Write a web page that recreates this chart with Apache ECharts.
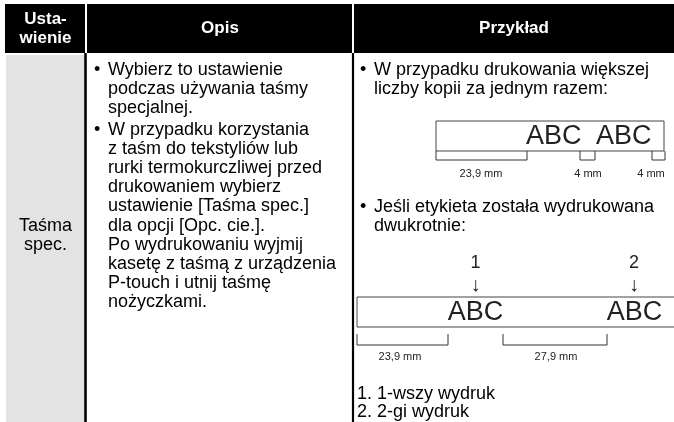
<!DOCTYPE html>
<html>
<head>
<meta charset="utf-8">
<script src="https://cdn.jsdelivr.net/npm/echarts@6/dist/echarts.min.js"></script>
<style>html,body{margin:0;padding:0;background:#fff;}#c{width:674px;height:422px;}</style>
</head>
<body>
<div id="c"></div>
<script>
// ---- content (texts / values) ----
const headers = ['Usta-\nwienie', 'Opis', 'Przykład'];
const settingName = ['Taśma', 'spec.'];
const descBullets = [
  ['Wybierz to ustawienie', 'podczas używania taśmy', 'specjalnej.'],
  ['W przypadku korzystania', 'z taśm do tekstyliów lub', 'rurki termokurczliwej przed',
   'drukowaniem wybierz', 'ustawienie [Taśma spec.]', 'dla opcji [Opc. cie.].',
   'Po wydrukowaniu wyjmij', 'kasetę z taśmą z urządzenia', 'P-touch i utnij taśmę', 'nożyczkami.']
];
const exampleIntro1 = ['W przypadku drukowania większej', 'liczby kopii za jednym razem:'];
const exampleIntro2 = ['Jeśli etykieta została wydrukowana', 'dwukrotnie:'];
const labelTexts1 = ['ABC', 'ABC'];
const measures1 = ['23,9 mm', '4 mm', '4 mm'];
const printMarks = ['1', '2'];
const labelTexts2 = ['ABC', 'ABC'];
const measures2 = ['23,9 mm', '27,9 mm'];
const legendLines = ['1. 1-wszy wydruk', '2. 2-gi wydruk'];

// ---- drawing ----
const FONT = '"Liberation Sans", Arial, "DejaVu Sans", sans-serif';
const TXT = '#000';
const els = [];
function txt(x, y, s, size, opts) {
  opts = opts || {};
  els.push({
    type: 'text', x: x, y: y, z: 10,
    style: {
      text: s,
      font: (opts.weight || 'normal') + ' ' + size + 'px ' + FONT,
      fill: opts.fill || TXT,
      textAlign: opts.align || 'left', align: opts.align || 'left',
      textVerticalAlign: 'middle', verticalAlign: 'middle',
      lineHeight: opts.lh || size * 1.2
    }
  });
}
function rect(x, y, w, h, style) {
  els.push({ type: 'rect', shape: { x: x, y: y, width: w, height: h }, style: style, z: 1 });
}
function line(x1, y1, x2, y2, stroke, w) {
  els.push({ type: 'line', shape: { x1: x1, y1: y1, x2: x2, y2: y2 }, style: { stroke: stroke, lineWidth: w }, z: 5 });
}
function bracket(x1, x2, yTop, yBot) {
  els.push({ type: 'polyline', z: 5,
    shape: { points: [[x1, yTop], [x1, yBot], [x2, yBot], [x2, yTop]] },
    style: { stroke: '#333', lineWidth: 1, fill: null } });
}

// header
rect(5, 4, 669, 49, { fill: '#000' });
line(86, 4, 86, 53, '#fff', 2);
line(353, 4, 353, 53, '#fff', 2);
txt(45.5, 28.5, headers[0], 17, { weight: 'bold', fill: '#fff', align: 'center', lh: 19 });
txt(220, 28.5, headers[1], 17, { weight: 'bold', fill: '#fff', align: 'center' });
txt(514, 28.5, headers[2], 17, { weight: 'bold', fill: '#fff', align: 'center' });

// body: first column
rect(6, 55, 78.5, 367, { fill: '#e3e3e3' });
line(85.5, 53, 85.5, 422, '#000', 2.6);
line(353, 53, 353, 422, '#000', 2.2);

const LH = 19.2, FS = 18;
// description column
let y = 70;
descBullets.forEach(function (b, bi) {
  if (bi > 0) y += 2;
  b.forEach(function (l, li) {
    if (li === 0) txt(94, y, '•', FS);
    txt(108, y, l, FS);
    if (bi === 1 && li === 5) txt(45.5, y, settingName[0], FS, { align: 'center' });
    if (bi === 1 && li === 6) txt(45.5, y, settingName[1], FS, { align: 'center' });
    y += LH;
  });
});

// example column: part 1
txt(360, 70, '•', FS);
exampleIntro1.forEach(function (l, i) { txt(374, 70 + i * LH, l, FS); });
rect(436, 121, 228, 30, { fill: null, stroke: '#444', lineWidth: 1 });
txt(526, 136.5, labelTexts1[0], 27, { fill: '#222' });
txt(596, 136.5, labelTexts1[1], 27, { fill: '#222' });
bracket(436, 527, 151, 160);
bracket(580, 595, 151, 160);
bracket(652, 665, 151, 160);
txt(481, 174, measures1[0], 11, { align: 'center', fill: '#222' });
txt(588, 174, measures1[1], 11, { align: 'center', fill: '#222' });
txt(651, 174, measures1[2], 11, { align: 'center', fill: '#222' });

// example column: part 2
txt(360, 207, '•', FS);
exampleIntro2.forEach(function (l, i) { txt(374, 207 + i * LH, l, FS); });
txt(475.5, 263, printMarks[0], 18, { align: 'center', fill: '#222' });
txt(634, 263, printMarks[1], 18, { align: 'center', fill: '#222' });
txt(475.5, 285, '↓', 20, { align: 'center', fill: '#222' });
txt(634, 285, '↓', 20, { align: 'center', fill: '#222' });
rect(357, 297, 330, 30, { fill: null, stroke: '#444', lineWidth: 1 });
txt(475.5, 312.5, labelTexts2[0], 27, { align: 'center', fill: '#222' });
txt(634.5, 312.5, labelTexts2[1], 27, { align: 'center', fill: '#222' });
bracket(357, 448, 334, 345);
bracket(503, 607, 334, 345);
txt(400, 357, measures2[0], 11, { align: 'center', fill: '#222' });
txt(556, 357, measures2[1], 11, { align: 'center', fill: '#222' });
legendLines.forEach(function (l, i) { txt(357, 394 + i * 18.3, l, FS); });

const chart = echarts.init(document.getElementById('c'), null, { renderer: 'canvas' });
chart.setOption({ animation: false, graphic: { elements: els } });
</script>
</body>
</html>
